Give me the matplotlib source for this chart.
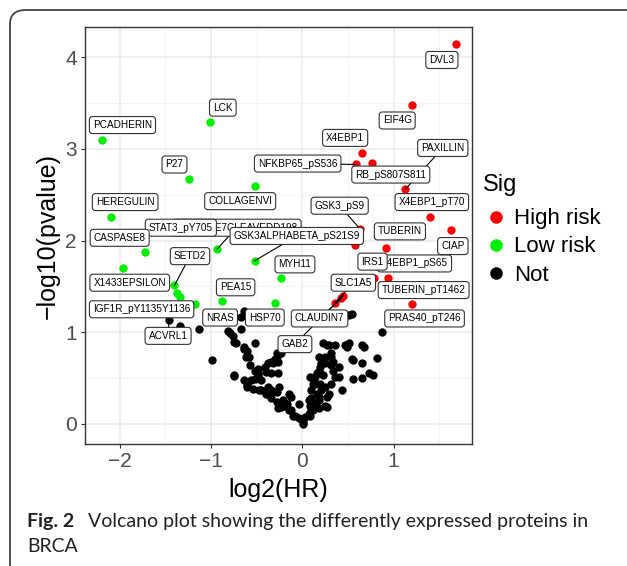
import matplotlib
matplotlib.use("Agg")
from matplotlib import pyplot as plt
from matplotlib.lines import Line2D
from matplotlib.patches import FancyBboxPatch

plt.rcParams['font.family'] = ['Liberation Sans', 'DejaVu Sans']

# High risk (red) proteins: log2(HR), -log10(pvalue), name
hr_high = [1.69, 1.20, 0.65, 1.13, 0.59, 0.76, 1.40, 1.63, 0.63, 0.58, 0.92, 0.94, 0.79, 1.20, 0.45, 0.43, 0.36]
p_high = [4.14, 3.48, 2.96, 2.56, 2.83, 2.85, 2.26, 2.11, 2.13, 1.95, 1.92, 1.59, 1.59, 1.31, 1.40, 1.37, 1.32]
name_high = ['DVL3', 'EIF4G', 'X4EBP1', 'PAXILLIN', 'NFKBP65_pS536', 'RB_pS807S811', 'X4EBP1_pT70',
             'CIAP', 'GSK3_pS9', 'TUBERIN_pT1462', 'TUBERIN', 'X4EBP1_pS65', 'IRS1', 'PRAS40_pT246',
             'GAB2', 'CLAUDIN7', 'SLC1A5']

# Low risk (green) proteins
hr_low = [-2.19, -1.01, -1.24, -0.52, -2.09, -1.72, -1.96, -0.93, -0.52, -1.40, -1.37, -1.34, -1.17, -0.88, -0.30, -0.23]
p_low = [3.10, 3.29, 2.67, 2.60, 2.26, 1.87, 1.70, 1.91, 1.78, 1.51, 1.43, 1.38, 1.31, 1.34, 1.32, 1.59]
name_low = ['PCADHERIN', 'LCK', 'P27', 'COLLAGENVI', 'HEREGULIN', 'CASPASE8', 'X1433EPSILON',
            'CASPASE7CLEAVEDD198', 'GSK3ALPHABETA_pS21S9', 'SETD2', 'STAT3_pY705', '',
            'IGF1R_pY1135Y1136', 'PEA15', 'HSP70', 'MYH11']

# non significant proteins that still got a label
hr_not_lab = [-1.46, -0.64]
p_not_lab = [1.13, 1.23]
name_not_lab = ['ACVRL1', 'NRAS']

# the rest of the non significant proteins
hr_not = [-0.81, -0.79, -0.76, -0.67, -0.99, -1.13, -1.34, -0.75, -0.64, -0.60, -0.52, -0.58, -0.57,
          -0.49, -0.41, -0.40, -0.56, -0.60, -0.52, -0.48, -0.34, -0.30, -0.27, -0.27, -0.45, -0.38,
          -0.34, -0.40, -0.28, -0.25, -0.21, -0.23, -0.17, -0.14, -0.10, -0.04, 0.01, 0.03, 0.07, 0.10,
          0.14, 0.18, 0.21, 0.19, 0.25, 0.23, 0.18, 0.21, 0.25, 0.18, 0.23, 0.27, 0.36, 0.32, 0.34,
          0.34, 0.36, 0.32, 0.27, 0.25, 0.44, 0.47, 0.55, 0.66, 0.65, 0.56, 0.66, 0.77, 0.82, 0.87,
          0.55, 0.51, -0.52, -0.45, -0.34, -0.27, -0.12, -0.04, 0.07, 0.10, 0.14, 0.14, -0.75, -0.75,
          -0.49, -0.64, -0.60, -0.54, -0.47, -0.38, -0.32, -0.38, -0.32, -0.34, -0.28, -0.27, -0.19,
          -0.14, -0.12, -0.08, 0.01, 0.08, 0.12, 0.08, 0.10, 0.18, 0.16, 0.29, 0.27, 0.18, 0.12, 0.08,
          0.16, 0.19, 0.25, 0.32, 0.31, 0.29, 0.49, 0.40, 0.40, 0.56, 0.68, 0.73, -0.67, -0.73, 0.51,
          -0.62, -0.23, -0.43, -0.64, -0.28]
p_not = [1.01, 0.99, 0.96, 1.03, 0.70, 1.03, 1.07, 0.52, 0.82, 0.80, 0.88, 0.73, 0.64,
         0.60, 0.62, 0.57, 0.48, 0.40, 0.49, 0.55, 0.68, 0.71, 0.75, 0.68, 0.37, 0.40,
         0.37, 0.33, 0.35, 0.40, 0.26, 0.18, 0.22, 0.15, 0.09, 0.06, 0.02, 0.07, 0.11, 0.15,
         0.22, 0.29, 0.37, 0.44, 0.40, 0.53, 0.58, 0.66, 0.73, 0.73, 0.88, 0.86, 0.86, 0.77, 0.68,
         0.58, 0.51, 0.44, 0.29, 0.20, 0.37, 0.86, 0.71, 0.86, 0.66, 0.49, 0.50, 0.53, 0.72, 1.00,
         1.20, 1.19, 0.58, 0.48, 0.55, 0.55, 0.29, 0.22, 0.26, 0.37, 0.44, 0.51, 0.89, 0.53,
         0.53, 0.48, 0.42, 0.38, 0.37, 0.38, 0.35, 0.66, 0.66, 0.28, 0.24, 0.17, 0.20,
         0.33, 0.15, 0.09, 0.00, 0.09, 0.15, 0.20, 0.28, 0.26, 0.33, 0.33, 0.18, 0.17, 0.44, 0.51,
         0.55, 0.62, 0.66, 0.64, 0.73, 0.86, 0.84, 0.62, 0.51, 0.70, 0.84, 0.55, 1.17, 0.88, 0.88,
         0.73, 0.77, 1.17, 0.84, 0.77]

# where the repelled label boxes sit (data units), in drawing order; True = draw a connector
label_pos = [
    ('LCK', -0.87, 3.45, False), ('PCADHERIN', -1.97, 3.26, False), ('P27', -1.40, 2.83, False),
    ('HEREGULIN', -1.94, 2.42, False), ('COLLAGENVI', -0.68, 2.43, False),
    ('CASPASE7CLEAVEDD198', -0.72, 2.14, True), ('STAT3_pY705', -1.33, 2.14, False),
    ('CASPASE8', -2.00, 2.03, False), ('GSK3ALPHABETA_pS21S9', -0.06, 2.05, True),
    ('SETD2', -1.23, 1.83, True), ('X1433EPSILON', -1.89, 1.54, False),
    ('IGF1R_pY1135Y1136', -1.76, 1.25, False), ('ACVRL1', -1.47, 0.96, True),
    ('PEA15', -0.73, 1.49, False), ('NRAS', -0.90, 1.16, False), ('HSP70', -0.41, 1.16, False),
    ('MYH11', -0.08, 1.74, False), ('GAB2', -0.08, 0.87, True), ('CLAUDIN7', 0.19, 1.15, True),
    ('SLC1A5', 0.56, 1.54, True), ('GSK3_pS9', 0.41, 2.38, True), ('X4EBP1_pS65', 1.23, 1.75, False),
    ('IRS1', 0.77, 1.77, False), ('TUBERIN', 1.07, 2.10, False), ('X4EBP1_pT70', 1.42, 2.42, False),
    ('CIAP', 1.65, 1.94, False), ('TUBERIN_pT1462', 1.33, 1.46, False),
    ('PRAS40_pT246', 1.34, 1.15, False), ('RB_pS807S811', 0.97, 2.72, False),
    ('NFKBP65_pS536', -0.05, 2.84, True), ('X4EBP1', 0.47, 3.12, False), ('EIF4G', 1.04, 3.31, False),
    ('DVL3', 1.53, 3.97, False), ('PAXILLIN', 1.54, 3.01, True),
]

col_high = '#FF0000'
col_low = '#00EE00'
col_not = 'black'

fig = plt.figure(figsize=(6.27, 5.66), dpi=100)
ax = fig.add_axes([0.1356, 0.2155, 0.6172, 0.7368])

ax.set_xlim(-2.38, 1.86)
ax.set_ylim(-0.22, 4.33)
ax.set_xticks([-2, -1, 0, 1])
ax.set_xticklabels(['\u22122', '\u22121', '0', '1'])
ax.set_yticks([0, 1, 2, 3, 4])
ax.set_xticks([-1.5, -0.5, 0.5, 1.5], minor=True)
ax.set_yticks([0.5, 1.5, 2.5, 3.5], minor=True)
ax.grid(True, which='major', color='#EBEBEB', lw=1.1)
ax.grid(True, which='minor', color='#F2F2F2', lw=0.6)
ax.set_axisbelow(True)
for s in ax.spines.values():
    s.set_color('#333333')
    s.set_linewidth(1.0)
ax.tick_params(which='major', length=3, width=0.8, color='#333333', labelsize=15,
               labelcolor='#4D4D4D', pad=3)
ax.tick_params(which='minor', length=0)

ms = 36
ax.scatter(hr_not, p_not, s=ms, c=col_not, lw=0, zorder=2)
ax.scatter(hr_not_lab, p_not_lab, s=ms, c=col_not, lw=0, zorder=2)
ax.scatter(hr_low, p_low, s=ms, c=col_low, lw=0, zorder=2)
ax.scatter(hr_high, p_high, s=ms, c=col_high, lw=0, zorder=2)

# point position for each label
pt = {}
for xs, ys, ns in [(hr_high, p_high, name_high), (hr_low, p_low, name_low),
                   (hr_not_lab, p_not_lab, name_not_lab)]:
    for x, y, n in zip(xs, ys, ns):
        if n:
            pt[n] = (x, y)

z = 4
for name, lx, ly, seg in label_pos:
    if seg:
        px, py = pt[name]
        ax.plot([lx, px], [ly, py], color='black', lw=0.8, zorder=3)
    ax.text(lx, ly, name, ha='center', va='center', fontsize=7.2, color='black', zorder=z,
            bbox=dict(boxstyle='round,pad=0.35,rounding_size=0.3', fc='white', ec='#333333', lw=0.8))
    z += 0.01

ax.set_xlabel('log2(HR)', fontsize=18, labelpad=5)
ax.set_ylabel('\u2212log10(pvalue)', fontsize=18, labelpad=4)

# legend: title on its own, keys below it
fig.text(483 / 627, 1 - 185 / 566, 'Sig', fontsize=17, va='center', ha='left')
handles = [Line2D([], [], marker='o', ls='', color=c, markersize=8) for c in [col_high, col_low, col_not]]
fig.legend(handles, ['High risk', 'Low risk', 'Not'], loc='center left',
           bbox_to_anchor=(483 / 627, 1 - 247 / 566), frameon=False, fontsize=16,
           handletextpad=0.2, labelspacing=0.32, borderaxespad=0, borderpad=0, handlelength=1.2)

# caption and outer frame
cap_font = ['Lato', 'DejaVu Sans']
fig.text(27 / 627, 1 - 521 / 566, 'Fig. 2', fontsize=14, fontweight='bold', color='#231F20',
         va='center', family=cap_font)
fig.text(88 / 627, 1 - 521 / 566, 'Volcano plot showing the differently expressed proteins in',
         fontsize=14, color='#231F20', va='center', family=cap_font)
fig.text(27 / 627, 1 - 547 / 566, 'BRCA', fontsize=14, color='#231F20', va='center', family=cap_font)
frame = FancyBboxPatch((10 / 627, -0.2), 1.3, 1.2 - 10 / 566,
                       boxstyle='round,pad=0,rounding_size=0.025', transform=fig.transFigure,
                       fill=False, ec='#444444', lw=1.3)
fig.patches.append(frame)

fig.savefig('out.png', dpi=100)
